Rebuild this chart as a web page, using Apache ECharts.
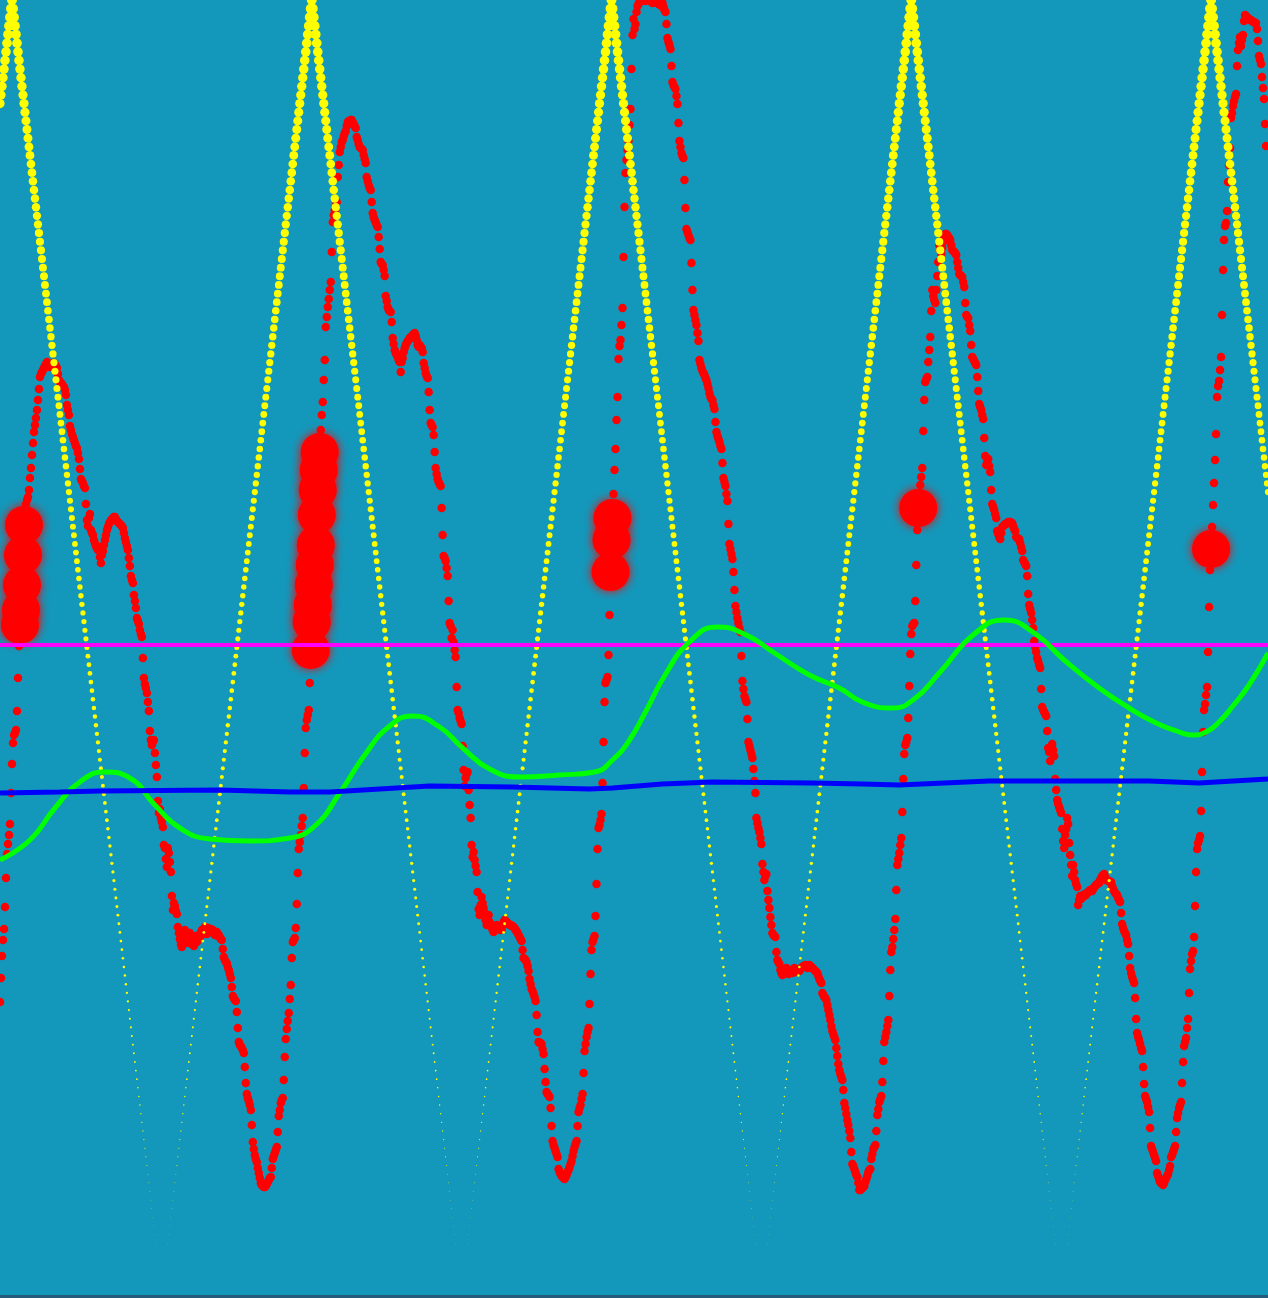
<!DOCTYPE html>
<html>
<head>
<meta charset="utf-8">
<script src="https://cdn.jsdelivr.net/npm/echarts@6/dist/echarts.min.js"></script>
<style>
  html, body { margin: 0; padding: 0; background: #275b7a; }
  #chart { width: 1268px; height: 1295px; }
</style>
</head>
<body>
<div id="chart"></div>
<script>
// yellow: one level per step, symbol size follows the level
const yellowLevels = [
  138,139,140,141,142,143,144,145,146,147,148,149,150,
  149,148,147,146,145,144,143,142,141,140,139,138,137,136,135,134,133,132,131,130,
  129,128,127,126,125,124,123,122,121,120,119,118,117,116,115,114,113,112,111,110,
  109,108,107,106,105,104,103,102,101,100,99,98,97,96,95,94,93,92,91,90,
  89,88,87,86,85,84,83,82,81,80,79,78,77,76,75,74,73,72,71,70,
  69,68,67,66,65,64,63,62,61,60,59,58,57,56,55,54,53,52,51,50,
  49,48,47,46,45,44,43,42,41,40,39,38,37,36,35,34,33,32,31,30,
  29,28,27,26,25,24,23,22,21,20,19,18,17,16,15,14,13,12,11,10,
  9,8,7,6,5,4,3,2,1,0,
  1,2,3,4,5,6,7,8,9,10,11,12,13,14,15,16,17,18,19,20,
  21,22,23,24,25,26,27,28,29,30,31,32,33,34,35,36,37,38,39,40,
  41,42,43,44,45,46,47,48,49,50,51,52,53,54,55,56,57,58,59,60,
  61,62,63,64,65,66,67,68,69,70,71,72,73,74,75,76,77,78,79,80,
  81,82,83,84,85,86,87,88,89,90,91,92,93,94,95,96,97,98,99,100,
  101,102,103,104,105,106,107,108,109,110,111,112,113,114,115,116,117,118,119,120,
  121,122,123,124,125,126,127,128,129,130,131,132,133,134,135,136,137,138,139,140,
  141,142,143,144,145,146,147,148,149,150,
  149,148,147,146,145,144,143,142,141,140,139,138,137,136,135,134,133,132,131,130,
  129,128,127,126,125,124,123,122,121,120,119,118,117,116,115,114,113,112,111,110,
  109,108,107,106,105,104,103,102,101,100,99,98,97,96,95,94,93,92,91,90,
  89,88,87,86,85,84,83,82,81,80,79,78,77,76,75,74,73,72,71,70,
  69,68,67,66,65,64,63,62,61,60,59,58,57,56,55,54,53,52,51,50,
  49,48,47,46,45,44,43,42,41,40,39,38,37,36,35,34,33,32,31,30,
  29,28,27,26,25,24,23,22,21,20,19,18,17,16,15,14,13,12,11,10,
  9,8,7,6,5,4,3,2,1,0,
  1,2,3,4,5,6,7,8,9,10,11,12,13,14,15,16,17,18,19,20,
  21,22,23,24,25,26,27,28,29,30,31,32,33,34,35,36,37,38,39,40,
  41,42,43,44,45,46,47,48,49,50,51,52,53,54,55,56,57,58,59,60,
  61,62,63,64,65,66,67,68,69,70,71,72,73,74,75,76,77,78,79,80,
  81,82,83,84,85,86,87,88,89,90,91,92,93,94,95,96,97,98,99,100,
  101,102,103,104,105,106,107,108,109,110,111,112,113,114,115,116,117,118,119,120,
  121,122,123,124,125,126,127,128,129,130,131,132,133,134,135,136,137,138,139,140,
  141,142,143,144,145,146,147,148,149,150,
  149,148,147,146,145,144,143,142,141,140,139,138,137,136,135,134,133,132,131,130,
  129,128,127,126,125,124,123,122,121,120,119,118,117,116,115,114,113,112,111,110,
  109,108,107,106,105,104,103,102,101,100,99,98,97,96,95,94,93,92,91,90,
  89,88,87,86,85,84,83,82,81,80,79,78,77,76,75,74,73,72,71,70,
  69,68,67,66,65,64,63,62,61,60,59,58,57,56,55,54,53,52,51,50,
  49,48,47,46,45,44,43,42,41,40,39,38,37,36,35,34,33,32,31,30,
  29,28,27,26,25,24,23,22,21,20,19,18,17,16,15,14,13,12,11,10,
  9,8,7,6,5,4,3,2,1,0,
  1,2,3,4,5,6,7,8,9,10,11,12,13,14,15,16,17,18,19,20,
  21,22,23,24,25,26,27,28,29,30,31,32,33,34,35,36,37,38,39,40,
  41,42,43,44,45,46,47,48,49,50,51,52,53,54,55,56,57,58,59,60,
  61,62,63,64,65,66,67,68,69,70,71,72,73,74,75,76,77,78,79,80,
  81,82,83,84,85,86,87,88,89,90,91,92,93,94,95,96,97,98,99,100,
  101,102,103,104,105,106,107,108,109,110,111,112,113,114,115,116,117,118,119,120,
  121,122,123,124,125,126,127,128,129,130,131,132,133,134,135,136,137,138,139,140,
  141,142,143,144,145,146,147,148,149,150,
  149,148,147,146,145,144,143,142,141,140,139,138,137,136,135,134,133,132,131,130,
  129,128,127,126,125,124,123,122,121,120,119,118,117,116,115,114,113,112,111,110,
  109,108,107,106,105,104,103,102,101,100,99,98,97,96,95,94,93,92,91,90,
  89,88,87,86,85,84,83,82,81,80,79,78,77,76,75,74,73,72,71,70,
  69,68,67,66,65,64,63,62,61,60,59,58,57,56,55,54,53,52,51,50,
  49,48,47,46,45,44,43,42,41,40,39,38,37,36,35,34,33,32,31,30,
  29,28,27,26,25,24,23,22,21,20,19,18,17,16,15,14,13,12,11,10,
  9,8,7,6,5,4,3,2,1,0,
  1,2,3,4,5,6,7,8,9,10,11,12,13,14,15,16,17,18,19,20,
  21,22,23,24,25,26,27,28,29,30,31,32,33,34,35,36,37,38,39,40,
  41,42,43,44,45,46,47,48,49,50,51,52,53,54,55,56,57,58,59,60,
  61,62,63,64,65,66,67,68,69,70,71,72,73,74,75,76,77,78,79,80,
  81,82,83,84,85,86,87,88,89,90,91,92,93,94,95,96,97,98,99,100,
  101,102,103,104,105,106,107,108,109,110,111,112,113,114,115,116,117,118,119,120,
  121,122,123,124,125,126,127,128,129,130,131,132,133,134,135,136,137,138,139,140,
  141,142,143,144,145,146,147,148,149,150,
  149,148,147,146,145,144,143,142,141,140,139,138,137,136,135,134,133,132,131,130,
  129,128,127,126,125,124,123,122,121,120,119,118,117,116,115,114,113,112,111,110,
  109,108,107,106,105,104,103,102,101,100,99,98,97,96,95,94,93
];

// red: one height per step
const redHeights = [
  293,317,339,355,366,388,417,441,451,460,471,502,531,552,560,562,565,584,617,649,
  670,685,710,740,770,785,791,795,798,805,817,827,840,852,863,870,877,885,895,906,
  918,921,923,925,927,929,931,933,931,929,928,930,931,932,932,931,929,927,921,915,
  913,912,911,909,908,905,900,890,885,880,869,865,861,858,855,852,849,847,842,836,
  826,816,814,812,809,807,791,775,769,777,781,765,762,760,755,752,749,747,745,748,
  738,732,740,744,750,755,760,765,768,771,773,775,775,777,778,778,776,774,773,772,
  771,770,769,767,762,757,753,749,745,737,729,719,715,712,700,694,687,677,674,671,
  665,661,658,637,617,611,607,602,593,584,564,555,550,553,555,542,530,518,494,482,
  486,477,473,468,450,447,436,428,447,442,433,423,399,385,392,389,384,381,368,362,
  356,351,348,355,360,365,359,355,352,358,362,357,351,353,349,355,359,353,357,360,
  358,362,365,361,366,368,364,361,367,365,363,366,364,365,362,360,361,363,359,360,
  358,356,355,346,338,335,333,332,328,325,321,317,308,299,297,295,294,283,267,253,
  250,249,247,245,242,228,212,201,197,194,190,185,170,153,146,140,136,133,127,122,
  117,112,110,109,108,108,109,111,113,115,117,118,127,136,139,142,145,148,163,179,
  185,192,195,197,215,238,256,266,274,282,296,310,337,353,355,357,367,391,422,446,
  453,460,469,477,507,542,567,575,580,585,612,645,673,690,710,730,750,780,805,825,
  843,865,880,893,915,935,968,978,988,996,1005,1013,1043,1073,1080,1085,1089,1093,1118,1130,
  1143,1148,1153,1155,1159,1162,1164,1169,1173,1174,1174,1175,1175,1173,1171,1169,1167,1158,1155,1151,
  1148,1147,1146,1145,1140,1136,1132,1118,1114,1110,1107,1105,1093,1082,1078,1075,1073,1070,1068,1058,
  1046,1033,1031,1030,1025,1019,999,994,988,985,984,983,973,957,951,945,942,940,938,935,
  933,923,933,937,943,947,950,952,954,955,957,958,958,960,961,962,959,955,950,948,
  950,948,947,943,932,927,922,919,917,903,885,872,870,868,860,843,827,821,816,813,
  811,809,787,760,739,737,734,727,719,694,672,669,657,665,653,645,638,608,585,582,
  577,574,571,549,525,509,517,521,523,505,490,477,450,438,443,435,429,423,403,386,
  380,390,398,392,387,382,375,370,377,380,373,370,368,365,363,366,368,370,369,367,
  366,365,366,370,373,375,374,373,372,371,370,370,369,369,368,367,365,364,362,360,
  358,356,354,345,337,336,335,333,329,324,316,311,306,304,301,298,294,280,263,253,
  252,252,251,246,241,226,213,203,201,200,198,187,169,154,150,147,144,141,138,126,
  123,121,119,118,117,116,118,120,123,125,128,131,134,139,144,148,151,154,169,183,
  187,190,196,201,222,244,251,258,263,267,291,321,345,353,356,359,379,411,446,467,
  470,475,481,512,553,593,612,615,618,640,680,723,755,777,801,825,846,875,898,936,
  949,955,970,987,1038,1088,1122,1135,1145,1154,1170,1186,1226,1260,1276,1266,1271,1283,1289,1291,
  1293,1295,1297,1299,1298,1296,1294,1295,1297,1298,1296,1294,1293,1292,1294,1296,1295,1293,1292,1291,
  1291,1290,1289,1292,1288,1285,1283,1271,1257,1253,1250,1246,1229,1213,1210,1208,1206,1199,1191,1172,
  1154,1148,1142,1139,1137,1115,1087,1066,1063,1060,1057,1055,1032,1005,985,980,975,970,962,954,
  935,931,927,924,922,920,917,915,911,907,902,898,896,895,890,886,873,863,859,856,
  853,849,846,832,817,813,809,801,794,771,751,746,741,736,723,705,689,683,677,672,
  667,663,639,614,606,599,596,593,576,553,549,545,541,537,526,514,502,477,472,467,
  463,457,451,431,423,415,419,421,404,395,387,378,370,362,360,359,358,343,335,333,
  331,325,322,320,323,325,326,327,324,321,322,325,323,322,325,327,324,323,325,324,
  324,326,327,328,329,329,330,328,327,329,330,329,328,327,326,325,324,323,322,319,
  316,314,312,302,300,298,297,295,290,285,280,275,269,264,261,258,255,247,239,231,
  225,221,218,215,205,192,187,181,175,170,164,157,143,131,129,126,123,120,118,112,
  105,105,106,107,108,109,113,116,119,123,125,126,136,141,146,148,150,164,180,186,
  193,196,199,213,234,253,258,263,269,275,299,325,343,348,356,365,376,405,430,436,
  442,450,457,483,516,541,550,553,557,577,609,641,661,669,671,672,694,730,765,787,
  800,810,818,827,864,895,913,916,918,933,945,958,984,1005,999,995,992,1005,1019,1033,
  1050,1045,1041,1047,1053,1058,1061,1061,1060,1058,1057,1055,1050,1045,1044,1043,1042,1040,1033,1027,
  1021,1020,1019,1018,1013,1008,992,980,978,977,970,964,950,938,936,934,932,930,918,904,
  891,888,885,880,876,857,839,830,833,836,829,823,805,791,788,785,781,777,764,761,
  758,756,762,768,769,770,771,771,772,773,773,773,772,772,769,766,764,758,757,756,
  756,752,748,744,735,733,731,729,719,701,690,686,682,675,667,654,648,643,637,634,
  630,627,606,588,585,583,581,579,564,547,543,534,545,551,545,539,516,505,495,491,
  488,485,482,466,454,447,460,466,477,471,452,440,430,419,430,423,415,411,408,390,
  395,399,396,398,400,399,401,400,402,403,404,405,404,404,406,408,409,410,411,412,
  412,415,417,419,420,421,418,415,415,414,414,413,413,409,406,404,402,401,400,397,
  395,393,382,371,367,364,362,360,355,351,339,327,322,318,315,312,297,276,262,258,
  255,251,247,244,228,211,199,196,193,188,183,167,149,146,143,140,137,134,122,119,
  116,113,112,111,110,112,115,117,119,121,125,129,138,140,143,146,149,163,177,182,
  187,190,193,212,233,249,253,257,267,276,302,326,334,341,344,358,389,423,446,452,
  455,459,484,523,563,585,591,600,608,643,688,725,746,768,790,812,835,861,898,909,
  914,925,938,980,1025,1055,1069,1072,1084,1113,1130,1147,1177,1182,1189,1194,1198,1201,1229,1245,
  1252,1258,1249,1255,1260,1274,1280,1279,1278,1277,1276,1275,1275,1274,1273,1273,1272,1272,1266,1254,
  1239,1235,1231,1218,1207,1196,1171,1149
];

// red steps drawn with the big blurred marker
const redBigIndex = [20, 21, 22, 23, 24, 311, 312, 313, 314, 315, 316, 317, 318, 319, 320, 611, 612, 613, 919, 1212];

const greenX = [0, 30, 55, 80, 105, 130, 155, 180, 210, 250, 290, 315, 340, 365, 390, 413, 440, 463, 490, 520, 560, 595, 613, 630, 647, 665, 690, 718, 745, 775, 810, 840, 863, 893, 915, 940, 975, 1005, 1035, 1065, 1100, 1130, 1157, 1180, 1193, 1207, 1220, 1233, 1250, 1269];
const greenY = [435, 455, 487, 513, 523, 517, 490, 467, 456, 454, 457, 469, 502, 540, 569, 579, 568, 547, 526, 518, 520, 523, 535, 555, 585, 619, 653, 668, 661, 642, 620, 607, 593, 587, 596, 622, 661, 675, 662, 635, 607, 587, 572, 563, 560, 563, 573, 588, 610, 642];

const blueX = [0, 60, 100, 220, 290, 330, 380, 430, 513, 590, 613, 663, 713, 813, 863, 900, 990, 1050, 1150, 1200, 1269];
const blueY = [502, 503, 504, 505, 503, 503, 506, 509, 508, 506, 507, 511, 513, 512, 511, 510, 514, 514, 514, 512, 516];

const magentaX = [0, 1269];
const magentaY = [650, 650];

const yellowData = yellowLevels.map((v, i) => [i, v]);
const redData = redHeights.map((v, i) => [i, v]);
const bigData = redBigIndex.map(i => [i, redHeights[i]]);
const pairs = (xs, ys) => xs.map((x, i) => [x, ys[i]]);

const chart = echarts.init(document.getElementById('chart'));
chart.setOption({
  backgroundColor: '#1398bb',
  animation: false,
  grid: { left: 0, right: 0, top: 0, bottom: 0 },
  xAxis: { type: 'value', min: 0, max: 1269, show: false },
  yAxis: [
    { type: 'value', min: 0, max: 150, show: false },
    { type: 'value', min: 0, max: 1295, show: false }
  ],
  series: [
    {
      type: 'scatter',
      yAxisIndex: 1,
      data: redData,
      symbolSize: 8.5,
      clip: false,
      progressive: 0,
      itemStyle: { color: '#ff0000', opacity: 1 }
    },
    {
      type: 'scatter',
      yAxisIndex: 0,
      data: yellowData,
      symbolSize: (val) => val[1] / 15,
      clip: false,
      progressive: 0,
      itemStyle: { color: '#ffff00', opacity: 1 }
    },
    {
      type: 'line',
      yAxisIndex: 1,
      data: pairs(magentaX, magentaY),
      symbol: 'none',
      lineStyle: { color: '#ff00ff', width: 4 }
    },
    {
      type: 'line',
      yAxisIndex: 1,
      data: pairs(greenX, greenY),
      smooth: 0.5,
      symbol: 'none',
      lineStyle: { color: '#00ff00', width: 5 }
    },
    {
      type: 'line',
      yAxisIndex: 1,
      data: pairs(blueX, blueY),
      symbol: 'none',
      lineStyle: { color: '#0000ff', width: 5 }
    },
    {
      type: 'scatter',
      yAxisIndex: 1,
      data: bigData,
      symbolSize: 38,
      clip: false,
      itemStyle: { color: '#ff0000', opacity: 1, shadowBlur: 10, shadowColor: '#ff0000' }
    }
  ]
});
</script>
</body>
</html>
